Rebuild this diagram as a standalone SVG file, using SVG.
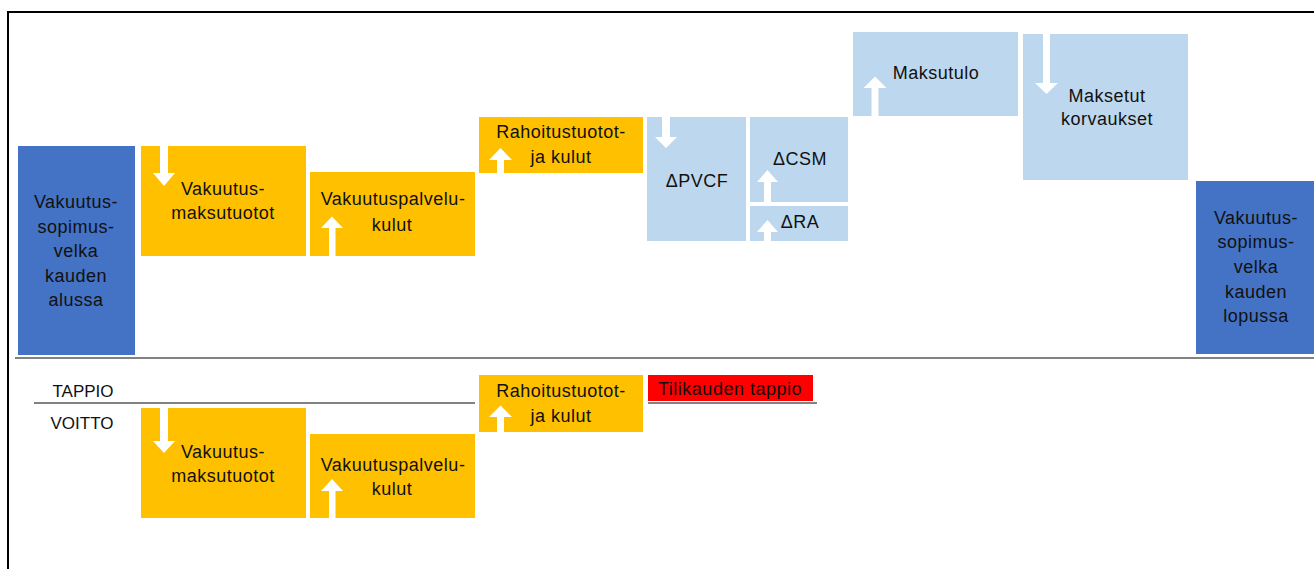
<svg xmlns="http://www.w3.org/2000/svg" width="1314" height="569" viewBox="0 0 1314 569">
<style>
.t{font-family:"Liberation Sans",Arial,sans-serif;font-size:18px;letter-spacing:0.5px;fill:#111;text-anchor:middle}
.lbl{font-family:"Liberation Sans",Arial,sans-serif;font-size:17px;fill:#111;text-anchor:middle}
.dark{fill:#4472C4}
.yel{fill:#FFC000}
.lb{fill:#BDD7EE}
.red{fill:#FF0000}
.arr{fill:#FFFFFF}
.ln{stroke:#595959;stroke-width:1.6;fill:none}
</style>
<rect x="8" y="12" width="1330" height="600" fill="#FFFFFF" stroke="#000" stroke-width="2"/>
<g id="connectors">
<line class="ln" x1="15" y1="358" x2="1314" y2="358"/>
<line class="ln" x1="34" y1="403" x2="475" y2="403"/>
<line class="ln" x1="648" y1="403" x2="817" y2="403"/>
</g>
<g id="start">
<rect class="dark" x="18" y="146" width="117" height="209"/>
<text class="t" x="76" y="208">Vakuutus-</text>
<text class="t" x="76" y="233">sopimus-</text>
<text class="t" x="76" y="257">velka</text>
<text class="t" x="76" y="282">kauden</text>
<text class="t" x="76" y="306">alussa</text>
</g>
<g id="maksutuotot">
<rect class="yel" x="141" y="146" width="165" height="110"/>
<path class="arr" d="M160,146 H168 V173 H175 L164,186 L153,173 H160 Z"/>
<text class="t" x="223" y="195">Vakuutus-</text>
<text class="t" x="223" y="219">maksutuotot</text>
</g>
<g id="palvelukulut">
<rect class="yel" x="310" y="172" width="165" height="84"/>
<path class="arr" d="M329,256 V228 H321 L332,216.5 L343,228 H335.5 V256 Z"/>
<text class="t" x="393" y="205">Vakuutuspalvelu-</text>
<text class="t" x="392" y="231">kulut</text>
</g>
<g id="rahoitus">
<rect class="yel" x="479" y="117" width="164" height="56"/>
<path class="arr" d="M497,173 V160 H489 L500.5,148 L512,160 H504 V173 Z"/>
<text class="t" x="561" y="138">Rahoitustuotot-</text>
<text class="t" x="561" y="163">ja kulut</text>
</g>
<g id="pvcf">
<rect class="lb" x="647" y="117" width="99" height="124"/>
<path class="arr" d="M662,117 H670 V137 H677 L666,148 L655,137 H662 Z"/>
<text class="t" x="697" y="187">ΔPVCF</text>
</g>
<g id="csm">
<rect class="lb" x="750" y="117" width="98" height="85"/>
<path class="arr" d="M764,202 V182 H757 L767.5,170 L778,182 H771 V202 Z"/>
<text class="t" x="800" y="165">ΔCSM</text>
</g>
<g id="ra">
<rect class="lb" x="750" y="206" width="98" height="35"/>
<path class="arr" d="M764,241 V232 H757 L767.5,220 L778,232 H771 V241 Z"/>
<text class="t" x="800" y="228">ΔRA</text>
</g>
<g id="maksutulo">
<rect class="lb" x="853" y="32" width="165" height="84"/>
<path class="arr" d="M871.5,116 V88 H863.5 L875,76.5 L886.5,88 H878.5 V116 Z"/>
<text class="t" x="936" y="79">Maksutulo</text>
</g>
<g id="korvaukset">
<rect class="lb" x="1023" y="34" width="165" height="146"/>
<path class="arr" d="M1043,34 H1050 V83 H1058 L1046.5,94 L1035,83 H1043 Z"/>
<text class="t" x="1107" y="102">Maksetut</text>
<text class="t" x="1107" y="125">korvaukset</text>
</g>
<g id="end">
<rect class="dark" x="1196" y="181" width="130" height="173"/>
<text class="t" x="1256" y="224">Vakuutus-</text>
<text class="t" x="1256" y="248">sopimus-</text>
<text class="t" x="1256" y="273">velka</text>
<text class="t" x="1256" y="298">kauden</text>
<text class="t" x="1256" y="322">lopussa</text>
</g>
<g id="tappio-label">
<text class="lbl" x="83" y="397">TAPPIO</text>
</g>
<g id="voitto-label">
<text class="lbl" x="82" y="429">VOITTO</text>
</g>
<g id="maksutuotot-2">
<rect class="yel" x="141" y="408" width="165" height="110"/>
<path class="arr" d="M160,408 H168 V441 H175 L164,453 L153,441 H160 Z"/>
<text class="t" x="223" y="458">Vakuutus-</text>
<text class="t" x="223" y="482">maksutuotot</text>
</g>
<g id="palvelukulut-2">
<rect class="yel" x="310" y="434" width="165" height="84"/>
<path class="arr" d="M329,518 V491 H321 L332,479 L343,491 H335.5 V518 Z"/>
<text class="t" x="393" y="471">Vakuutuspalvelu-</text>
<text class="t" x="392" y="495">kulut</text>
</g>
<g id="rahoitus-2">
<rect class="yel" x="479" y="375" width="164" height="57"/>
<path class="arr" d="M497,432 V417 H489 L500.5,405.5 L512,417 H504 V432 Z"/>
<text class="t" x="561" y="397">Rahoitustuotot-</text>
<text class="t" x="561" y="422">ja kulut</text>
</g>
<g id="tilikauden-tappio">
<rect class="red" x="648" y="375" width="165" height="26"/>
<text class="t" x="730" y="395">Tilikauden tappio</text>
</g>
</svg>
